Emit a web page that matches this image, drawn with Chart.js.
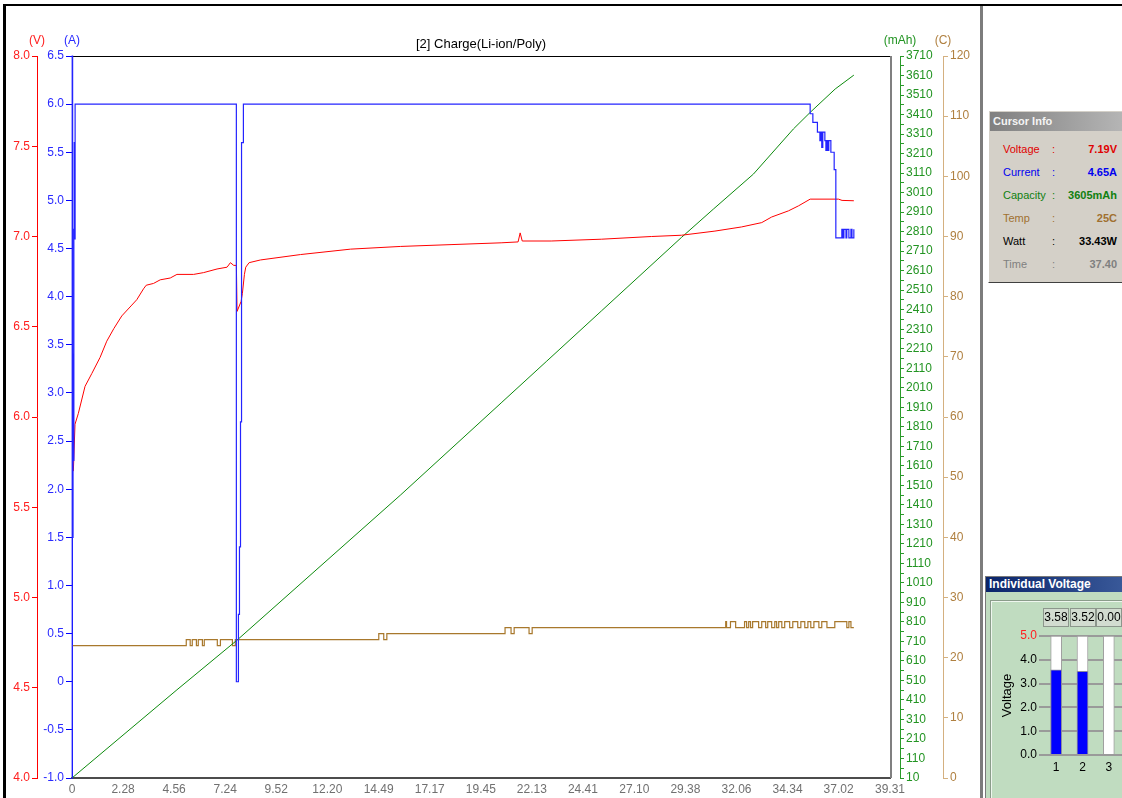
<!DOCTYPE html>
<html>
<head>
<meta charset="utf-8">
<title>[2] Charge(Li-ion/Poly)</title>
<script src="https://cdn.jsdelivr.net/npm/chart.js@4.4.1/dist/chart.umd.min.js"></script>
<style>
  html, body { margin: 0; padding: 0; }
  body {
    width: 1122px; height: 798px; position: relative; overflow: hidden;
    background: #fff; font-family: "Liberation Sans", Arial, sans-serif;
  }
  #chargeChart { position: absolute; left: 0; top: 0; }
  .edge-top { position: absolute; left: 3px; top: 4px; width: 1119px; height: 2px; background: #000; }
  .edge-left { position: absolute; left: 3px; top: 4px; width: 3px; height: 794px; background: #000; }
  .splitter { position: absolute; left: 980px; top: 6px; width: 3px; height: 792px; background: #7c7c7c; }

  .cursor-panel {
    position: absolute; left: 988px; top: 110px; width: 140px; height: 171px;
    background: #d4d0c8; border: 1px solid; border-color: #fff #404040 #404040 #fff;
  }
  .cursor-caption {
    position: absolute; left: 990px; top: 112px; width: 140px; height: 19px; line-height: 19px;
    background: linear-gradient(to right, #808080, #b8b8b8);
    color: #f4f4f4; font-weight: bold; font-size: 11px; padding-left: 3px; box-sizing: border-box;
  }
  .row { position: absolute; left: 990px; width: 130px; height: 16px; font-size: 11px; line-height: 16px; }
  .row .name { position: absolute; left: 13px; }
  .row .sep { position: absolute; left: 62px; }
  .row .val { position: absolute; right: 3px; font-weight: bold; }

  .cells-panel {
    position: absolute; left: 985px; top: 576px; width: 140px; height: 230px;
    background: #c0dcc0; border-left: 1px solid #7a7a7a; border-top: 1px solid #7a7a7a;
  }
  .cells-caption {
    position: absolute; left: 986px; top: 577px; width: 140px; height: 15px; line-height: 15px;
    background: linear-gradient(to right, #0a246a, #3a5a9a);
    color: #fff; font-weight: bold; font-size: 12px; padding-left: 3px; box-sizing: border-box;
  }
  .cells-frame {
    position: absolute; left: 990px; top: 600px; width: 140px; height: 200px;
    border-left: 1px solid #8a9c8a; border-top: 1px solid #8a9c8a;
    box-shadow: inset 1px 1px 0 #eef6ee;
  }
  #cellChart { position: absolute; left: 992px; top: 601px; }
</style>
</head>
<body>
<canvas id="chargeChart" width="980" height="798"></canvas>
<div class="edge-top"></div>
<div class="edge-left"></div>
<div class="splitter"></div>

<div class="cursor-panel"></div>
<div class="cursor-caption">Cursor Info</div>
<div class="row" style="top:141px;color:#e00000"><span class="name">Voltage</span><span class="sep">:</span><span class="val" id="curV"></span></div>
<div class="row" style="top:164px;color:#0000f0"><span class="name">Current</span><span class="sep">:</span><span class="val" id="curA"></span></div>
<div class="row" style="top:187px;color:#108010"><span class="name">Capacity</span><span class="sep">:</span><span class="val" id="curCap"></span></div>
<div class="row" style="top:210px;color:#a07030"><span class="name">Temp</span><span class="sep">:</span><span class="val" id="curT"></span></div>
<div class="row" style="top:233px;color:#000"><span class="name">Watt</span><span class="sep">:</span><span class="val" id="curW"></span></div>
<div class="row" style="top:256px;color:#808080"><span class="name">Time</span><span class="sep">:</span><span class="val" id="curTime"></span></div>

<div class="cells-panel"></div>
<div class="cells-caption">Individual Voltage</div>
<div class="cells-frame"></div>
<canvas id="cellChart" width="130" height="197"></canvas>

<script>
// Time axis labels (min.sec) and series: time in minutes
const xTickLabels = ['0', '2.28', '4.56', '7.24', '9.52', '12.20', '14.49', '17.17', '19.45',
  '22.13', '24.41', '27.10', '29.38', '32.06', '34.34', '37.02', '39.31'];

// Pack voltage (V)
const voltTime = [0.065, 0.145, 0.307, 0.630, 0.953, 1.356, 1.679, 2.021, 2.405, 2.889, 3.131,
  3.454, 3.584, 3.939, 4.262, 4.746, 5.069, 5.876, 6.360, 7.006, 7.491, 7.652, 7.813, 7.942,
  7.974, 8.168, 8.232, 8.329, 8.394, 8.555, 9.104, 11.04, 13.46, 15.88, 18.31, 20.73, 21.55,
  21.65, 21.75, 23.15, 25.57, 27.99, 29.44, 31.06, 32.35, 33.32, 33.80, 34.61, 35.10, 35.66,
  37.03, 37.20, 37.77];
const voltValue = [5.70, 5.96, 6.02, 6.17, 6.24, 6.33, 6.42, 6.49, 6.56, 6.62, 6.65,
  6.71, 6.73, 6.74, 6.76, 6.77, 6.79, 6.79, 6.80, 6.82, 6.83, 6.855, 6.84, 6.84,
  6.585, 6.64, 6.685, 6.79, 6.83, 6.855, 6.87, 6.90, 6.93, 6.945, 6.955, 6.965, 6.97,
  7.02, 6.975, 6.975, 6.985, 7.00, 7.007, 7.03, 7.053, 7.077, 7.108, 7.142, 7.17, 7.207,
  7.207, 7.20, 7.198];

// Charge current (A), held until the next sample
const currTime = [0, 0.01, 0.03, 0.05, 0.07, 0.09, 0.11, 0.13, 0.15, 7.94, 8.04, 8.09, 8.14,
  8.19, 8.28, 35.66, 35.79, 36.01, 36.13, 36.18, 36.22, 36.27, 36.37, 36.42, 36.47, 36.51,
  36.56, 36.66, 36.82, 36.90, 37.19, 37.24, 37.29, 37.39, 37.43, 37.53, 37.63, 37.68, 37.77];
const currValue = [-1.0, 6.5, 1.5, 3.4, 2.3, 4.7, 5.6, 4.6, 6.0, 0.0, 0.7, 1.4, 2.7,
  5.6, 6.0, 5.9, 5.81, 5.71, 5.62, 5.71, 5.55, 5.71, 5.62, 5.52, 5.62, 5.52,
  5.62, 5.50, 5.32, 4.61, 4.70, 4.61, 4.70, 4.61, 4.70, 4.61, 4.70, 4.61, 4.70];

// Charged capacity (mAh)
const capTime = [0, 5.07, 7.99, 15.88, 20.73, 22.91, 25.57, 29.44, 30.98, 32.92,
  34.85, 35.66, 36.87, 37.77];
const capValue = [10, 462, 718, 1461, 1932, 2144, 2403, 2780, 2925, 3105,
  3336, 3421, 3541, 3612];

// Temperature (C), held until the next sample
const tempTime = [0, 5.52, 5.71, 5.81, 6.01, 6.10, 6.30, 6.39, 7.02, 7.17, 7.75, 7.89,
  14.82, 15.06, 15.21, 20.92, 21.21, 21.36, 22.08, 22.23, 31.58, 31.62, 31.81, 32.06,
  32.49, 32.59, 32.69, 32.78, 32.88, 33.17, 33.32, 33.51, 33.61, 33.80, 33.95, 34.04,
  34.14, 34.29, 34.43, 34.67, 34.82, 35.06, 35.21, 35.40, 35.55, 35.69, 35.84, 36.08,
  36.22, 36.47, 36.85, 37.43, 37.53, 37.63, 37.77];
const tempValue = [22, 23, 22, 23, 22, 23, 22, 23, 22, 23, 22, 23,
  24, 23, 24, 25, 24, 25, 24, 25, 26, 25, 26, 25,
  26, 25, 26, 25, 26, 25, 26, 25, 26, 25, 26, 25,
  26, 25, 26, 25, 26, 25, 26, 25, 26, 25, 26, 25,
  26, 25, 26, 25, 26, 25, 25];

// Cursor readout
const cursorReadout = { volt: '7.19V', amp: '4.65A', cap: '3605mAh', temp: '25C', watt: '33.43W', time: '37.40' };

// Individual cell voltages
const cellLabels = ['1', '2', '3'];
const cellVolts = [3.58, 3.52, 0.00];
const cellScaleMax = 5.0;

const chartTitle = '[2] Charge(Li-ion/Poly)';
const unitLabels = { volt: '(V)', amp: '(A)', cap: '(mAh)', temp: '(C)' };
const axisColours = {
  volt: { line: '#ff0000', label: '#ff2020' },
  amp: { line: '#0000ff', label: '#2a2aff' },
  cap: { line: '#2a9a2a', label: '#229422' },
  temp: { line: '#d4b080', label: '#b08040' }
};
const FONT = '"Liberation Sans", Arial, sans-serif';

const toMinutes = s => {
  const [m, sec = '0'] = s.split('.');
  return Number(m) + Number(sec) / 60;
};
const pairUp = (xs, ys) => xs.map((x, i) => ({ x: x, y: ys[i] }));

document.getElementById('curV').textContent = cursorReadout.volt;
document.getElementById('curA').textContent = cursorReadout.amp;
document.getElementById('curCap').textContent = cursorReadout.cap;
document.getElementById('curT').textContent = cursorReadout.temp;
document.getElementById('curW').textContent = cursorReadout.watt;
document.getElementById('curTime').textContent = cursorReadout.time;

// Plot frame: black top edge, grey right edge
const framePlugin = {
  id: 'plotFrame',
  beforeDatasetsDraw(chart) {
    const { ctx, chartArea: a } = chart;
    ctx.save();
    ctx.fillStyle = '#000';
    ctx.fillRect(a.left, a.top, a.right - a.left + 2, 1);
    ctx.fillStyle = '#808080';
    ctx.fillRect(a.right, a.top, 2, a.bottom - a.top);
    ctx.restore();
  }
};

// Title over the plot and unit captions above each value axis
const headerPlugin = {
  id: 'header',
  afterDraw(chart) {
    const { ctx, chartArea: a, scales } = chart;
    ctx.save();
    ctx.textAlign = 'center';
    ctx.textBaseline = 'middle';
    ctx.font = '13px ' + FONT;
    ctx.fillStyle = '#000';
    ctx.fillText(chartTitle, (a.left + a.right) / 2, a.top - 12);
    ctx.font = '12px ' + FONT;
    Object.keys(unitLabels).forEach(id => {
      const s = scales[id];
      const x = s.position === 'left' ? s.right : s.left;
      ctx.fillStyle = axisColours[id].label;
      ctx.fillText(unitLabels[id], x, a.top - 15);
    });
    ctx.restore();
  }
};

function valueAxis(id, position, weight, width, min, max, step, tickLen, fmt) {
  return {
    type: 'linear',
    position: position,
    weight: weight,
    min: min,
    max: max,
    afterBuildTicks: scale => {
      const ticks = [];
      for (let v = min; v <= max + 1e-9; v += step) ticks.push({ value: Math.round(v * 1000) / 1000 });
      scale.ticks = ticks;
    },
    afterFit: scale => { scale.width = width; },
    border: { display: true, color: axisColours[id].line, width: 1 },
    grid: { display: true, drawOnChartArea: false, drawTicks: true, tickLength: tickLen, color: axisColours[id].line },
    ticks: {
      color: axisColours[id].label,
      padding: 2,
      autoSkip: false,
      font: { family: FONT, size: 12 },
      callback: fmt
    }
  };
}

new Chart(document.getElementById('chargeChart'), {
  type: 'line',
  data: {
    datasets: [{
      label: 'Current',
      data: pairUp(currTime, currValue),
      yAxisID: 'amp',
      borderColor: '#2424ff',
      borderWidth: 1.2,
      stepped: true,
      order: 0
    }, {
      label: 'Voltage',
      data: pairUp(voltTime, voltValue),
      yAxisID: 'volt',
      borderColor: '#ff0000',
      borderWidth: 1,
      order: 1
    }, {
      label: 'Capacity',
      data: pairUp(capTime, capValue),
      yAxisID: 'cap',
      borderColor: '#0c8a0c',
      borderWidth: 1,
      order: 2
    }, {
      label: 'Temp',
      data: pairUp(tempTime, tempValue),
      yAxisID: 'temp',
      borderColor: '#a8782c',
      borderWidth: 1.2,
      stepped: true,
      order: 3
    }]
  },
  options: {
    responsive: false,
    animation: false,
    devicePixelRatio: 1,
    layout: { padding: { top: 56, left: 0, right: 0, bottom: 0 } },
    elements: { point: { radius: 0 }, line: { tension: 0 } },
    datasets: { line: { clip: 2 } },
    plugins: { legend: { display: false }, tooltip: { enabled: false }, title: { display: false } },
    scales: {
      x: {
        type: 'linear',
        min: 0,
        max: toMinutes(xTickLabels[xTickLabels.length - 1]),
        afterBuildTicks: scale => { scale.ticks = xTickLabels.map(l => ({ value: toMinutes(l) })); },
        afterFit: scale => { scale.height = 20; },
        border: { display: true, color: '#4c4c4c', width: 2 },
        grid: { display: false, drawTicks: false },
        ticks: {
          color: '#707070',
          padding: 4,
          autoSkip: false,
          maxRotation: 0,
          font: { family: FONT, size: 12 },
          callback: (v, i) => xTickLabels[i]
        }
      },
      amp: valueAxis('amp', 'left', 1, 35, -1, 6.5, 0.5, 6,
        v => Math.abs(v) < 1e-9 ? '0' : v.toFixed(1)),
      volt: valueAxis('volt', 'left', 2, 37, 4, 8, 0.5, 5, v => v.toFixed(1)),
      gap: {
        type: 'linear',
        position: 'right',
        weight: 0,
        afterFit: scale => { scale.width = 10; },
        border: { display: false },
        grid: { display: false },
        ticks: { display: false }
      },
      cap: valueAxis('cap', 'right', 1, 43, 10, 3710, 50, 4,
        v => (Math.round(v) - 10) % 100 === 0 ? String(Math.round(v)) : ''),
      temp: valueAxis('temp', 'right', 2, 37, 0, 120, 10, 5, v => String(Math.round(v)))
    }
  },
  plugins: [framePlugin, headerPlugin]
});

// Reading boxes above each cell column
const cellBoxPlugin = {
  id: 'cellBoxes',
  afterDraw(chart) {
    const { ctx, chartArea: a, scales } = chart;
    ctx.save();
    ctx.font = '12px ' + FONT;
    ctx.textAlign = 'center';
    ctx.textBaseline = 'middle';
    cellVolts.forEach((v, i) => {
      const x = Math.round(scales.x.getPixelForValue(i));
      const top = a.top - 28;
      ctx.fillStyle = '#d2dcd0';
      ctx.fillRect(x - 12.5, top, 25, 19);
      ctx.strokeStyle = '#8c968c';
      ctx.lineWidth = 1;
      ctx.strokeRect(x - 12.5, top + 0.5, 25, 18);
      ctx.fillStyle = '#000';
      ctx.fillText(v.toFixed(2), x, top + 10);
    });
    ctx.restore();
  }
};

new Chart(document.getElementById('cellChart'), {
  type: 'bar',
  data: {
    labels: cellLabels,
    datasets: [{
      data: cellVolts,
      backgroundColor: '#0000ff',
      borderColor: '#8c8c9c',
      borderWidth: 1,
      barThickness: 11,
      grouped: false,
      order: 0
    }, {
      data: cellLabels.map(() => cellScaleMax),
      backgroundColor: '#ffffff',
      borderColor: '#a0a0a0',
      borderWidth: 1,
      barThickness: 11,
      grouped: false,
      order: 1
    }]
  },
  options: {
    responsive: false,
    animation: false,
    devicePixelRatio: 1,
    layout: { padding: { top: 35, bottom: 23, left: 0, right: 0 } },
    plugins: { legend: { display: false }, tooltip: { enabled: false } },
    scales: {
      x: {
        afterFit: scale => { scale.height = 20; },
        border: { display: false },
        grid: { display: false, drawTicks: false },
        ticks: { color: '#000', padding: 5, font: { family: FONT, size: 12 } }
      },
      y: {
        min: 0,
        max: cellScaleMax,
        afterFit: scale => { scale.width = 51; },
        border: { display: false },
        grid: {
          drawTicks: true,
          tickLength: 4,
          color: c => Number.isInteger(c.tick.value) ? '#9a9a9a' : '#c4c4c4',
          lineWidth: c => Number.isInteger(c.tick.value) ? 2 : 1
        },
        ticks: {
          stepSize: 0.5,
          padding: 2,
          font: { family: FONT, size: 12 },
          color: c => c.tick.value === cellScaleMax ? '#ff2020' : '#000',
          callback: v => Number.isInteger(v) ? v.toFixed(1) : ''
        },
        title: {
          display: true,
          text: 'Voltage',
          color: '#000',
          font: { family: FONT, size: 13 },
          padding: { top: 8, bottom: 0 }
        }
      }
    }
  },
  plugins: [cellBoxPlugin]
});
</script>
</body>
</html>
